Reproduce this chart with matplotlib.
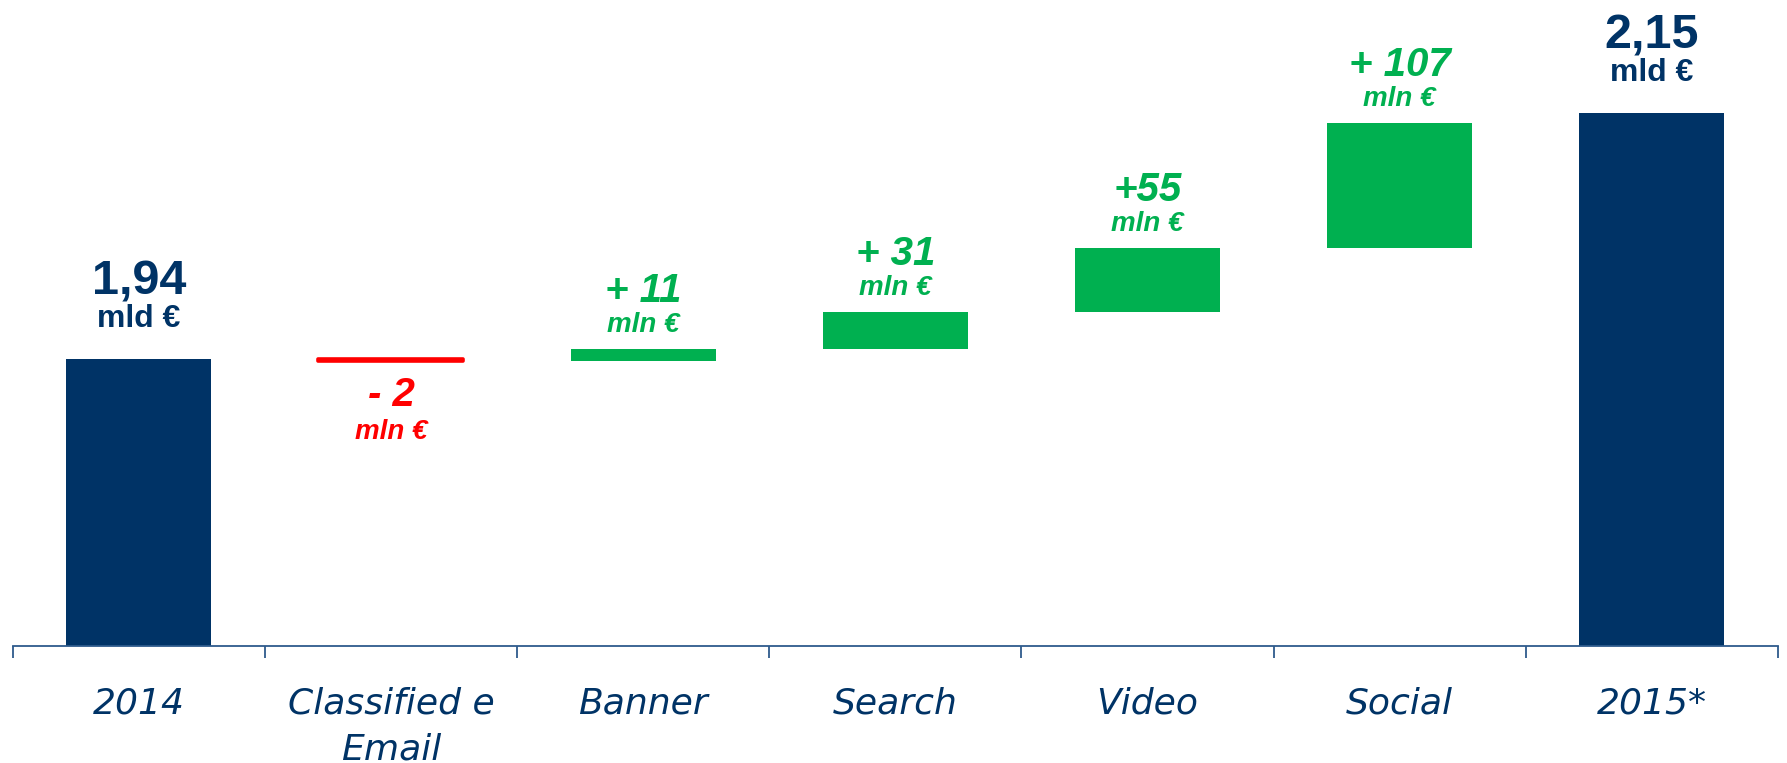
import matplotlib
matplotlib.use("Agg")
import matplotlib.pyplot as plt
import numpy as np

# Italian digital advertising market, 2014 -> 2015 bridge (values in mln €)
categories = ["2014", "Classified e\nEmail", "Banner", "Search", "Video", "Social", "2015*"]
start_total = 1940
deltas = [-2, 11, 31, 55, 107]
end_total = 2150
total_labels = ["1,94", "2,15"]
delta_labels = ["- 2", "+ 11", "+ 31", "+55", "+ 107"]

NAVY = "#003366"
GREEN = "#00B050"
RED = "#FF0000"
AXIS = "#2E5B8C"

fig = plt.figure(figsize=(17.87, 7.63), dpi=100)
ax = fig.add_axes([12.7 / 1787, 117 / 763, (1778 - 12.7) / 1787, 646 / 763])

bar_w = 0.575
x = np.arange(len(categories))

# running totals for the floating bars
tops = start_total + np.cumsum(deltas)
bottoms = tops - np.array(deltas)

# opening and closing totals
ax.bar([x[0], x[-1]], [start_total, end_total], width=bar_w, color=NAVY, bottom=0, zorder=2)

# changes
for i, d in enumerate(deltas):
    col = GREEN if d > 0 else RED
    lo = min(bottoms[i], tops[i])
    ax.bar(x[i + 1], abs(d), bottom=lo, width=bar_w, color=col,
           edgecolor=col if d < 0 else "none", linewidth=2.6 if d < 0 else 0,
           joinstyle="round", zorder=2)

ax.set_xlim(-0.5, len(categories) - 0.5)
ax.set_ylim(1695, 2246.7)

# total labels
for xi, val, lab in [(x[0], start_total, total_labels[0]), (x[-1], end_total, total_labels[1])]:
    ax.annotate(lab, (xi, val), xytext=(0, 65), textcoords="offset pixels",
                ha="center", va="baseline", fontsize=35, fontweight="bold",
                color=NAVY, family="Liberation Sans")
    ax.annotate("mld €", (xi, val), xytext=(0, 32), textcoords="offset pixels",
                ha="center", va="baseline", fontsize=23, fontweight="bold",
                color=NAVY, family="Liberation Sans")

# change labels
for i, (d, lab) in enumerate(zip(deltas, delta_labels)):
    xi = x[i + 1]
    if d > 0:
        ax.annotate(lab, (xi, tops[i]), xytext=(0, 47), textcoords="offset pixels",
                    ha="center", va="baseline", fontsize=29, fontweight="bold",
                    fontstyle="italic", color=GREEN, family="Liberation Sans")
        ax.annotate("mln €", (xi, tops[i]), xytext=(0, 17), textcoords="offset pixels",
                    ha="center", va="baseline", fontsize=20, fontweight="bold",
                    fontstyle="italic", color=GREEN, family="Liberation Sans")
    else:
        ax.annotate(lab, (xi, tops[i]), xytext=(0, -45), textcoords="offset pixels",
                    ha="center", va="baseline", fontsize=29, fontweight="bold",
                    fontstyle="italic", color=RED, family="Liberation Sans")
        ax.annotate("mln €", (xi, tops[i]), xytext=(0, -78), textcoords="offset pixels",
                    ha="center", va="baseline", fontsize=20, fontweight="bold",
                    fontstyle="italic", color=RED, family="Liberation Sans")

# axes styling: only the category axis with boundary ticks
for s in ["top", "right", "left"]:
    ax.spines[s].set_visible(False)
ax.spines["bottom"].set_color(AXIS)
ax.spines["bottom"].set_linewidth(1.3)
ax.set_yticks([])

ax.set_xticks(x)
ax.set_xticklabels(categories, fontsize=26, fontstyle="italic", color=NAVY,
                   family="DejaVu Sans", linespacing=1.45)
ax.tick_params(axis="x", which="major", length=0, pad=29)
ax.set_xticks(np.arange(-0.5, len(categories)), minor=True)
ax.tick_params(axis="x", which="minor", length=8.5, width=1.3, color=AXIS, direction="out")

fig.savefig("out.png", dpi=100, facecolor="white")
